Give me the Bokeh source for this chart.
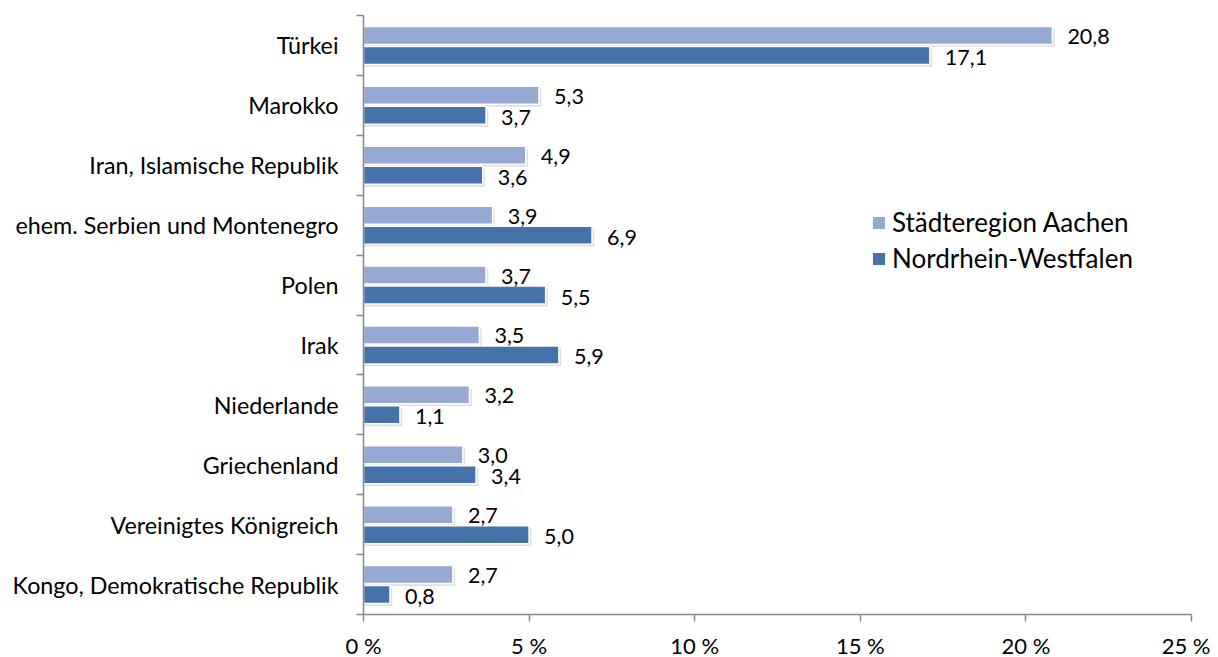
from bokeh.plotting import figure
from bokeh.models import Range1d, FixedTicker, ColumnDataSource, Legend, LegendItem
from bokeh.core.properties import value
from bokeh.embed import file_html
from bokeh.resources import INLINE

categories = ["Türkei", "Marokko", "Iran, Islamische Republik", "ehem. Serbien und Montenegro",
              "Polen", "Irak", "Niederlande", "Griechenland", "Vereinigtes Königreich",
              "Kongo, Demokratische Republik"]
aachen = [20.8, 5.3, 4.9, 3.9, 3.7, 3.5, 3.2, 3.0, 2.7, 2.7]
nrw = [17.1, 3.7, 3.6, 6.9, 5.5, 5.9, 1.1, 3.4, 5.0, 0.8]
series_names = ["Städteregion Aachen", "Nordrhein-Westfalen"]
x_ticks = [0, 5, 10, 15, 20, 25]
x_tick_labels = ["0 %", "5 %", "10 %", "15 %", "20 %", "25 %"]

FONT = "Lato"
C_LIGHT = "#95A9D2"
C_DARK = "#4672AA"

n = len(categories)
p = figure(frame_width=828, frame_height=599, min_border_left=363, min_border_top=15,
           min_border_right=19, min_border_bottom=43,
           x_range=Range1d(0, 25), y_range=Range1d(n, 0),
           output_backend="svg", toolbar_location=None)
p.outline_line_color = None
p.grid.visible = False
p.background_fill_color = "white"

centers = [i + 0.5 for i in range(n)]
off = 0.167
h = 0.30
y_light = [c - off for c in centers]
y_dark = [c + off for c in centers]
src = ColumnDataSource(dict(yl=y_light, yd=y_dark, a=aachen, b=nrw,
                            al=[f"{v:.1f}".replace(".", ",") for v in aachen],
                            bl=[f"{v:.1f}".replace(".", ",") for v in nrw]))

# soft shadow
dx = 0.07
dy = 0.04
sh = ColumnDataSource(dict(
    top=[y - h / 2 + dy for y in y_light] + [y - h / 2 + dy for y in y_dark],
    bottom=[y + h / 2 + dy for y in y_light] + [y + h / 2 + dy for y in y_dark],
    right=[v + dx for v in aachen] + [v + dx for v in nrw],
    left=[0] * (2 * n)))
p.quad(top="top", bottom="bottom", left="left", right="right", source=sh,
       fill_color="black", fill_alpha=0.12, line_color=None)

r1 = p.hbar(y="yl", right="a", left=0, height=h, source=src, fill_color=C_LIGHT,
            line_color="white", line_width=1.5)
r2 = p.hbar(y="yd", right="b", left=0, height=h, source=src, fill_color=C_DARK,
            line_color="white", line_width=1.5)

p.text(x="a", y="yl", text="al", source=src, x_offset=15, y_offset=1,
       text_baseline="middle", text_align="left", text_font=value(FONT),
       text_font_size="21.5px", text_color="black")
p.text(x="b", y="yd", text="bl", source=src, x_offset=15, y_offset=2,
       text_baseline="middle", text_align="left", text_font=value(FONT),
       text_font_size="21.5px", text_color="black")

# x axis
xa = p.xaxis[0]
xa.ticker = FixedTicker(ticks=x_ticks, minor_ticks=[])
xa.major_label_overrides = {t: l for t, l in zip(x_ticks, x_tick_labels)}
xa.axis_line_color = "#878787"
xa.axis_line_width = 1.5
xa.major_tick_line_color = "#878787"
xa.major_tick_line_width = 1.5
xa.major_tick_in = 0
xa.major_tick_out = 7
xa.minor_tick_line_color = None
xa.major_label_text_font = FONT
xa.major_label_text_font_size = "22px"
xa.major_label_text_color = "black"
xa.major_label_standoff = 10

# y axis
ya = p.yaxis[0]
ya.ticker = FixedTicker(ticks=centers, minor_ticks=list(range(n + 1)))
ya.major_label_overrides = {c: cat for c, cat in zip(centers, categories)}
ya.axis_line_color = "#878787"
ya.axis_line_width = 1.5
ya.major_tick_line_color = None
ya.major_tick_in = 0
ya.major_tick_out = 0
ya.minor_tick_line_color = "#878787"
ya.minor_tick_line_width = 1.5
ya.minor_tick_in = 0
ya.minor_tick_out = 7
ya.major_label_text_font = FONT
ya.major_label_text_font_size = "23.3px"
ya.major_label_text_color = "black"
ya.major_label_standoff = 18

legend = Legend(items=[LegendItem(label=series_names[0], renderers=[r1]),
                       LegendItem(label=series_names[1], renderers=[r2])],
                location=(507, 340))
legend.border_line_color = None
legend.background_fill_alpha = 0
legend.padding = 0
legend.margin = 0
legend.glyph_width = 17
legend.glyph_height = 17
legend.label_standoff = 5
legend.spacing = 4
legend.label_height = 26
legend.label_text_font = FONT
legend.label_text_font_size = "26px"
legend.label_text_color = "black"
p.add_layout(legend)

open("out.html", "w").write(file_html(p, INLINE))
